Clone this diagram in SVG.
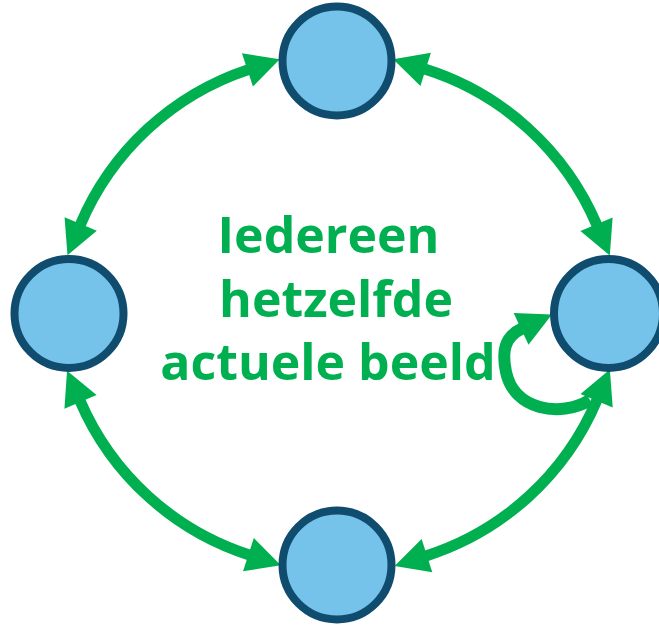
<svg xmlns="http://www.w3.org/2000/svg" width="659" height="626" viewBox="0 0 659 626">
  <style>
    .node { fill: #75C3EB; stroke: #0F4C6E; stroke-width: 8; }
    .conn { fill: none; stroke: #00B050; stroke-width: 11; marker-start: url(#arrow); marker-end: url(#arrow); }
    .loop { fill: none; stroke: #00B050; stroke-width: 12; marker-end: url(#arrow); }
    .label { font-family: "Open Sans", "Noto Sans", "Liberation Sans", sans-serif; font-weight: 700; font-size: 50px; fill: #00B050; text-anchor: middle; }
  </style>
  <defs>
    <marker id="arrow" viewBox="-1 -18 35 36" refX="0" refY="0" markerWidth="35" markerHeight="36" markerUnits="userSpaceOnUse" orient="auto-start-reverse" overflow="visible">
      <path d="M-1,-17.5 L33,0 L-1,17.5 Z" fill="#00B050"/>
    </marker>
  </defs>
  <rect width="659" height="626" fill="#FFFFFF"/>
  <g id="connectors">
    <path class="conn" d="M 248.4 69.6 A 277 277 0 0 0 80.3 224.9"/>
    <path class="conn" d="M 424.7 69.1 A 277 277 0 0 1 596.9 225.2"/>
    <path class="conn" d="M 80.1 401.0 A 277 277 0 0 0 249.4 555.0"/>
    <path class="conn" d="M 597.0 399.8 A 277 277 0 0 1 426.0 555.9"/>
    <path class="loop" d="M 590 400 C 560 418 514 410 506 372 C 501.9 352.4 503.9 337 522 328.5"/>
  </g>
  <g id="node-top"><circle class="node" cx="337" cy="61" r="54.5"/></g>
  <g id="node-left"><circle class="node" cx="69" cy="313.5" r="54.5"/></g>
  <g id="node-right"><circle class="node" cx="608.5" cy="313.5" r="54.5"/></g>
  <g id="node-bottom"><circle class="node" cx="337" cy="565" r="54.5"/></g>
  <g id="label">
    <text class="label" x="328.5" y="253">Iedereen</text>
    <text class="label" x="336" y="317">hetzelfde</text>
    <text class="label" x="328" y="380">actuele beeld</text>
  </g>
</svg>
